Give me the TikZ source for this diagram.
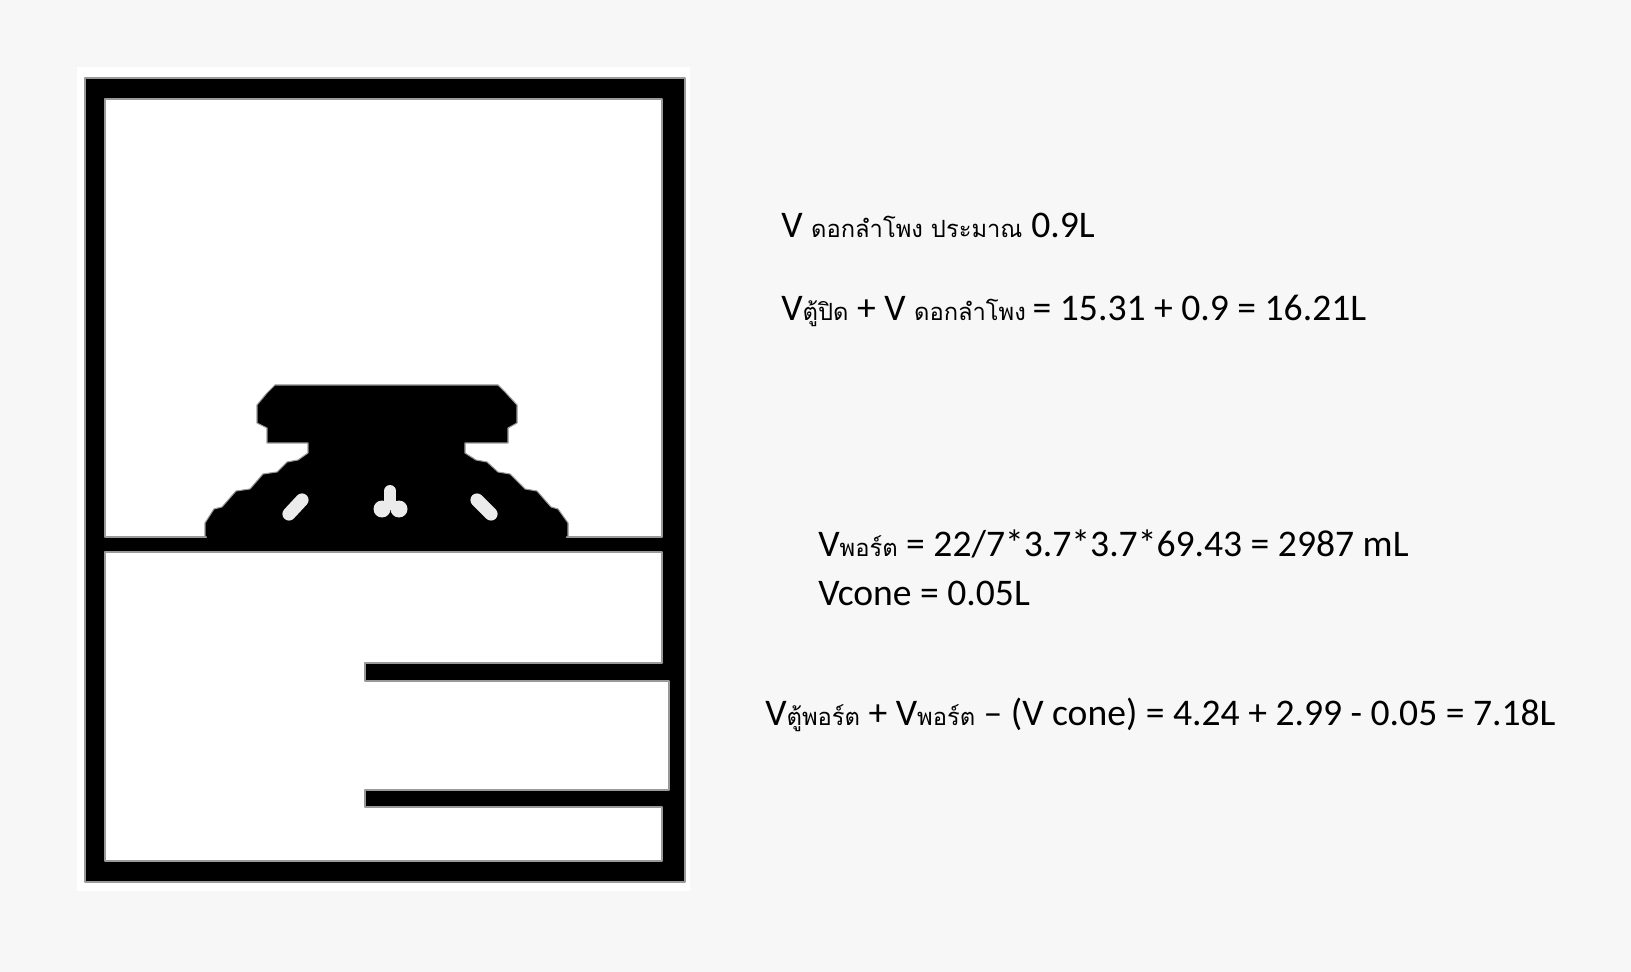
\documentclass[tikz,border=0pt]{standalone}
\usepackage{fontspec}
\setmainfont{Carlito}
\newfontfamily\thaifont[Script=Thai]{Loma}
\newcommand{\thaitext}[1]{{\thaifont\fontsize{13.5}{14}\selectfont #1}}
\definecolor{cPAGE}{HTML}{F7F7F7}
\begin{document}
\begin{tikzpicture}[x=0.02cm, y=-0.02cm, font=\fontsize{21.4}{24}\selectfont]
\tikzset{calcline/.style={anchor=base west, inner sep=0pt},
  solidpart/.style={fill=black, draw=black!40, line width=0.6pt, line join=round},
  roompart/.style={fill=white, draw=black!40, line width=0.6pt, line join=round}}
\fill[cPAGE] (0,0) rectangle (1631,972);
\fill[white] (77,67) rectangle (690,891);
% cabinet walls
\draw[solidpart] (85,78) rectangle (685,882);
\draw[roompart] (105,99) rectangle (662,537);
\draw[roompart] (105,552) -- (662,552) -- (662,663) -- (365,663) -- (365,681) -- (669,681) -- (669,790)
  -- (365,790) -- (365,807) -- (662,807) -- (662,861) -- (105,861) -- cycle;
% speaker
\draw[solidpart] (275,385) -- (498,385) -- (506,393) -- (517,405) -- (517,423) -- (508,428) -- (508,443)
  -- (465,443) -- (465,453) -- (476,460) -- (487,462) -- (498,472) -- (510,474) -- (525,489) -- (537,491)
  -- (551,507) -- (558,509) -- (568,523) -- (568,537)
  -- (205,537) -- (205,523) -- (214,509) -- (222,507) -- (236,491) -- (250,489) -- (263,474) -- (277,472)
  -- (287,462) -- (298,460) -- (308,453) -- (308,443)
  -- (267,443) -- (267,428) -- (257,423) -- (257,405) -- (267,393) -- cycle;
\fill[black] (207,534) rectangle (566,546);
\draw[white!92!black, line width=7.5pt, line cap=round] (302,500) -- (289,514);
\draw[white!92!black, line width=7.5pt, line cap=round] (477,500) -- (491,514);
\fill[white!92!black] (390,491) circle (6);
\fill[white!92!black] (384,491) rectangle (396,510);
\fill[white!92!black] (382,509) circle (8.5);
\fill[white!92!black] (399,509) circle (8.5);
% volumes
\node[calcline] (vdriver) at (781,238) {V \thaitext{ดอกลำโพง ประมาณ}\hspace{5pt}0.9L};
\node[calcline] (vsealed) at (781,321) {V\thaitext{ตู้ปิด} + V \thaitext{ดอกลำโพง}\hspace{-1pt} = 15.31 + 0.9 = 16.21L};
\node[calcline] (vport) at (818,556) {V\thaitext{พอร์ต} = 22/7*3.7*3.7*69.43 = 2987 mL};
\node[calcline] (vcone) at (818,605) {Vcone = 0.05L};
\node[calcline] (vported) at (765,725) {V\thaitext{ตู้พอร์ต} + V\thaitext{พอร์ต} -- (V cone) = 4.24 + 2.99 - 0.05 = 7.18L};
\end{tikzpicture}
\end{document}
